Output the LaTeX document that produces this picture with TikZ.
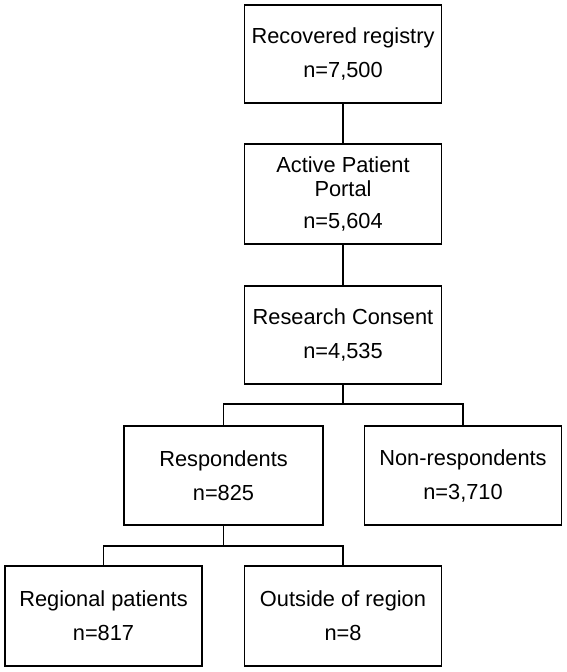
\documentclass[tikz,border=0pt]{standalone}
\usepackage{fontspec}
\setmainfont{Liberation Sans}
\usetikzlibrary{positioning}

\begin{document}
\begin{tikzpicture}[x=1pt, y=-1pt,
    box/.style={draw, line width=1.5pt, align=center, minimum width=197pt, minimum height=98pt,
                inner sep=2pt, font=\fontsize{21.8}{24}\selectfont},
    link/.style={line width=1.5pt}]
    \useasboundingbox (0,0) rectangle (567,672);

    \node[box] (reg) at (343,54) {Recovered registry\\[10pt]n=7,500};
    \node[box, minimum height=100pt] (portal) at (343,194) {Active Patient\\Portal\\[8pt]n=5,604};
    \node[box] (consent) at (343,335) {Research Consent\\[10pt]n=4,535};

    \node[box, minimum width=199pt, minimum height=99pt] (resp) at (223.5,475.5) {Respondents\\[10pt]n=825};
    \node[box, minimum height=99pt] (nonresp) at (463,475.5) {Non-respondents\\[10pt]n=3,710};

    \node[box, minimum height=100pt] (regional) at (103.5,616) {Regional patients\\[10pt]n=817};
    \node[box, minimum height=100pt] (outside) at (343,616) {Outside of region\\[10pt]n=8};

    \coordinate (split1) at (343,404);
    \coordinate (split2) at (223.5,546);

    \draw[link] (reg) -- (portal);
    \draw[link] (portal) -- (consent);
    \draw[link] (consent) -- (split1);
    \draw[link] (resp.north) |- (split1) -| (nonresp.north);
    \draw[link] (resp) -- (split2);
    \draw[link] (regional.north) |- (split2) -| (outside.north);
\end{tikzpicture}
\end{document}
